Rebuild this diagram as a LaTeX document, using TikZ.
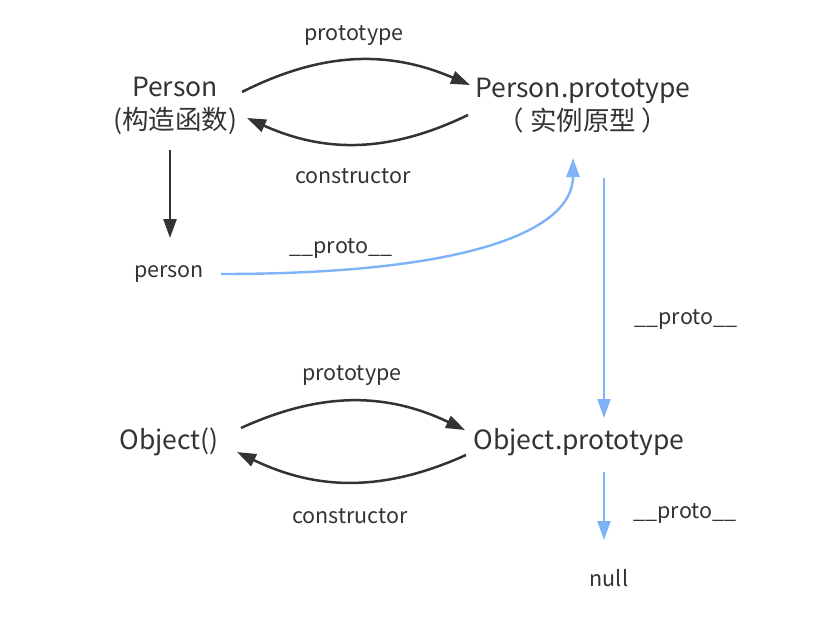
\documentclass[tikz,border=0pt]{standalone}
\usepackage{fontspec}
\setmainfont{Noto Sans CJK SC}
\usetikzlibrary{arrows.meta}
\definecolor{ink}{HTML}{333333}
\definecolor{protoblue}{HTML}{7EB3F7}
\tikzset{
  big/.style={font=\fontsize{26.5}{33}\selectfont,text=ink,inner sep=0pt,align=center},
  small/.style={font=\fontsize{21.5}{24}\selectfont,text=ink,inner sep=0pt},
  blk/.style={-{Triangle[length=19pt,width=13pt]},line width=2.5pt,draw=ink},
  blu/.style={-{Triangle[length=19pt,width=13pt]},line width=2.4pt,draw=protoblue}
}
\begin{document}
\begin{tikzpicture}[x=1pt,y=-1pt]
\useasboundingbox[fill=white] (0,0) rectangle (830,626);

\node[big] (Person) at (175,106) {Person\\(构造函数)};
\node[big] (PersonProto) at (583,106) {Person.prototype\\（ 实例原型 ）};
\node[small] (person) at (169,274) {person};
\node[big] (Obj) at (169,442) {Object()};
\node[big] (ObjProto) at (579,442) {Object.prototype};
\node[small] (null) at (609,578) {null};

\node[small] (l1) at (354,36) {prototype};
\node[small] (l2) at (353,176) {constructor};
\node[small] (l3) at (341,248) {\_\_proto\_\_};
\node[small] (l4) at (686,319) {\_\_proto\_\_};
\node[small] (l5) at (352,376) {prototype};
\node[small] (l6) at (350,516) {constructor};
\node[small] (l7) at (685,513) {\_\_proto\_\_};

% Person <-> Person.prototype
\draw [blk] ([xshift=67pt,yshift=14pt]Person.center) to[bend left=25] ([xshift=-113pt,yshift=21pt]PersonProto.center);
\draw [blk] ([xshift=-115pt,yshift=-9pt]PersonProto.center) to[bend left=25] ([xshift=72pt,yshift=-12pt]Person.center);
\draw [blk] ([xshift=-5pt,yshift=-44pt]Person.center) -- ([xshift=1pt,yshift=36pt]person.center);

% __proto__ chain
\draw [blu] ([xshift=52pt]person.center) .. controls +(250,0) and +(0,72) .. ([xshift=-10pt,yshift=-52pt]PersonProto.center);
\draw [blu] ([xshift=21pt,yshift=-72pt]PersonProto.center) -- ([xshift=25pt,yshift=24pt]ObjProto.center);

% Object() <-> Object.prototype
\draw [blk] ([xshift=72pt,yshift=14pt]Obj.center) to[bend left=25] ([xshift=-114pt,yshift=12pt]ObjProto.center);
\draw [blk] ([xshift=-113pt,yshift=-13pt]ObjProto.center) to[bend left=25] ([xshift=68pt,yshift=-10pt]Obj.center);
\draw [blu] ([xshift=25pt,yshift=-30pt]ObjProto.center) -- ([xshift=-5pt,yshift=38pt]null.center);
\end{tikzpicture}
\end{document}
